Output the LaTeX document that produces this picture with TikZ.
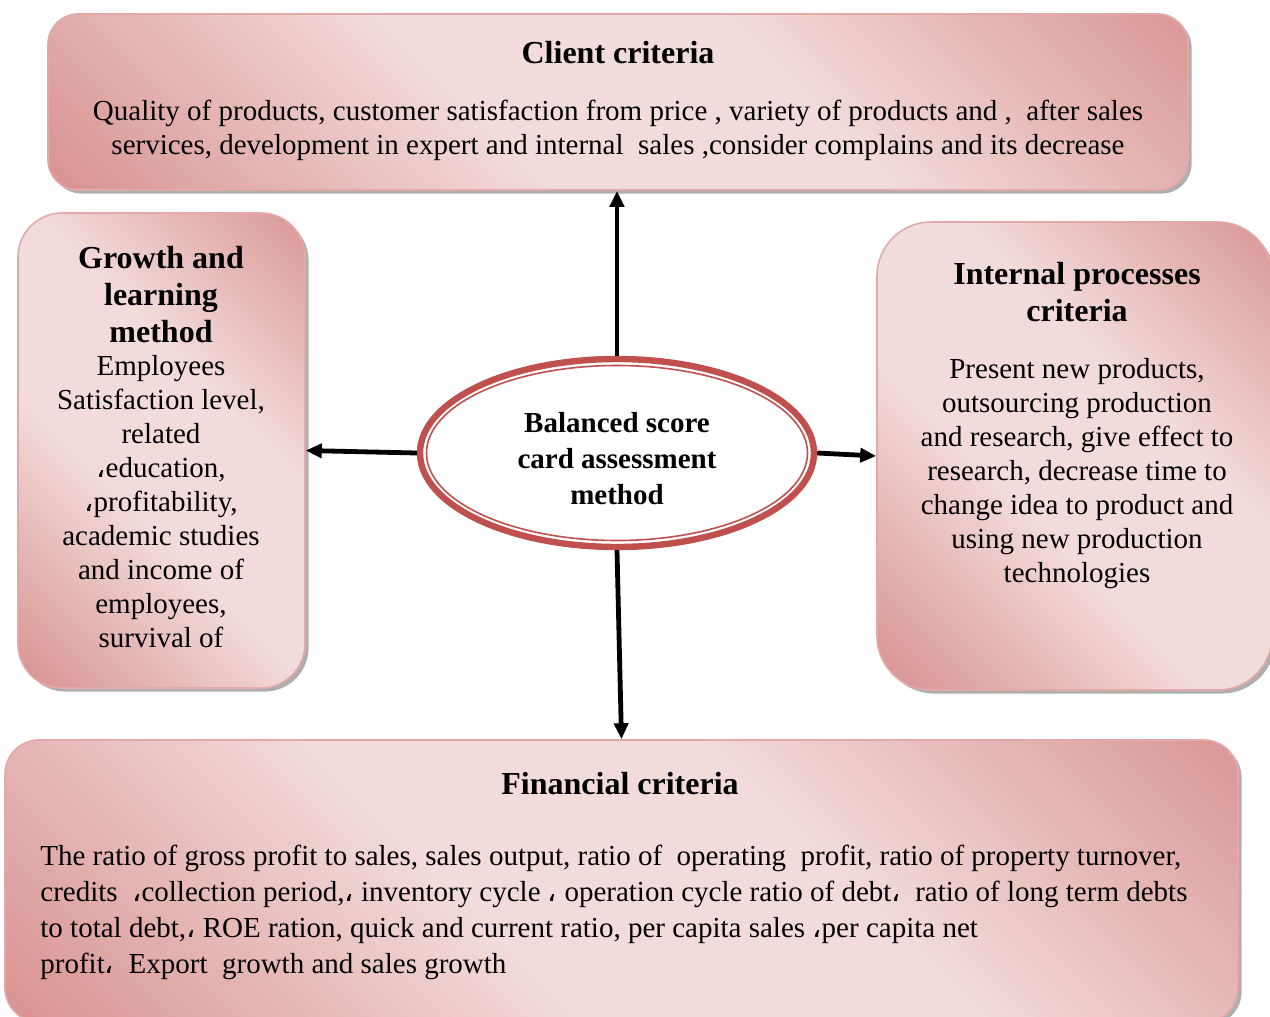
\documentclass[tikz,border=0pt]{standalone}
\usepackage{fontspec}
\setmainfont{Liberation Serif}
\newfontfamily\arabicfont{DejaVu Sans}
\usetikzlibrary{positioning}
\usetikzlibrary{shapes.geometric}
\usetikzlibrary{shadows}
\usetikzlibrary{arrows.meta}
\tikzset{>={Triangle[length=8pt,width=7pt]}}
\definecolor{pinkdark}{HTML}{D99594}
\definecolor{pinklight}{HTML}{F2DCDB}
\definecolor{pinkedge}{HTML}{E3A9A8}
\definecolor{corered}{HTML}{C0504D}
\pgfdeclarehorizontalshading{pinkdiag}{100bp}{color(0bp)=(pinkdark); color(16bp)=(pinkdark); color(42bp)=(pinklight); color(60bp)=(pinklight); color(86bp)=(pinkdark); color(100bp)=(pinkdark)}
\newcommand{\ac}{{\arabicfont ،}}
\tikzset{
  critbox/.style={rectangle, draw=pinkedge, line width=0.8pt, shading=pinkdiag, shading angle=45,
    drop shadow={shadow xshift=1.8pt, shadow yshift=-1.8pt, fill=black!45, opacity=0.7}},
  headtext/.style={font=\fontsize{16}{18.5}\selectfont\bfseries, align=center, inner sep=0pt},
  bodytext/.style={font=\fontsize{14.5}{17}\selectfont, align=center, inner sep=0pt},
  link/.style={->, line width=2.4pt},
}

\begin{document}
\begin{tikzpicture}[x=0.5pt,y=-0.5pt]
	\useasboundingbox (0,0) rectangle (1270,1017);
	\clip (0,0) rectangle (1270,1017);
	% the four criteria boxes
	\node[critbox, rounded corners=15pt, minimum width=570pt, minimum height=88pt] (client) at (618,102) {};
	\node[headtext] (clientHead) at (618,53) {Client criteria};
	\node[bodytext] (clientBody) at (618,130) {Quality of products, customer satisfaction from price , variety of products and ,\ \ after sales\\ services, development in expert and internal\ \ sales ,consider complains and its decrease};

	\node[critbox, rounded corners=22pt, minimum width=143.5pt, minimum height=237.5pt] (grow) at (161.5,450.5) {};
	\node[headtext] (growHead) at (161,295) {Growth and\\ learning\\ method};
	\node[bodytext] (growBody) at (161,502) {Employees\\ Satisfaction level,\\ related\\ \ac education,\\ \ac profitability,\\ academic studies\\ and income of\\ employees,\\ survival of};

	\node[critbox, rounded corners=27pt, minimum width=197.5pt, minimum height=234pt] (inner) at (1074.5,456) {};
	\node[headtext] (innerHead) at (1077,292) {Internal processes\\ criteria};
	\node[bodytext] (innerBody) at (1077,474) {Present new products,\\ outsourcing production\\ and research, give effect to\\ research, decrease time to\\ change idea to product and\\ using new production\\ technologies};

	\node[critbox, rounded corners=17pt, minimum width=616.5pt, minimum height=141pt] (fin) at (621.5,881) {};
	\node[headtext] (finHead) at (620,784) {Financial criteria};
	\node[bodytext, anchor=west, align=left, font=\fontsize{14.5}{18}\selectfont] (finBody) at (40,912) {The ratio of gross profit to sales, sales output, ratio of\ \ operating\ \ profit, ratio of property turnover,\\ credits\ \ \ac collection period,\ac{} inventory cycle \ac{} operation cycle ratio of debt\ac{}\ \ ratio of long term debts\\ to total debt,\ac{} ROE ration, quick and current ratio, per capita sales \ac per capita net\\ profit\ac{}\ \ Export\ \ growth and sales growth};

	% central method
	\node[ellipse, draw=corered, line width=3.2pt, fill=white, minimum width=197pt, minimum height=94pt] (core) at (617,453) {};
	\node[ellipse, draw=corered, line width=0.8pt, minimum width=190.5pt, minimum height=87.5pt] (coreRing) at (core) {};
	\node[headtext, font=\fontsize{14.5}{18}\selectfont\bfseries] (coreText) at (617,459) {Balanced score\\ card assessment\\ method};

	\draw[link] (core.north) -- (core.north |- client.south);
	\draw[link] (core.west) -- (grow.east);
	\draw[link] (core.east) -- (inner.west);
	\draw[link] (core.south) -- (fin.north);
\end{tikzpicture}
\end{document}
